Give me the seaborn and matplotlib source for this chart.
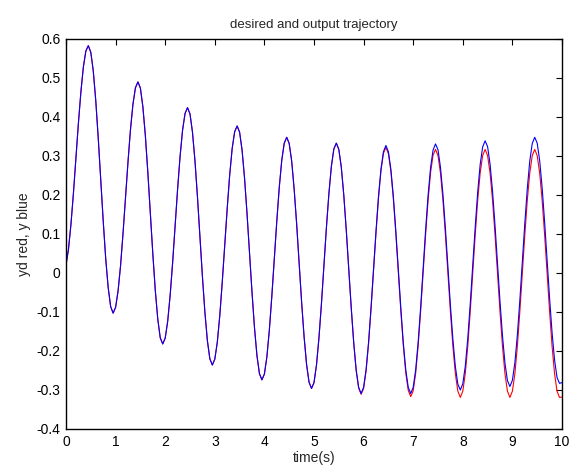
import numpy as np
import pandas as pd
import matplotlib
matplotlib.use("Agg")
import matplotlib.pyplot as plt
import seaborn as sns


# -----------------------------
# 1. Values read off the picture (sampled every 0.05 s)
# -----------------------------
time_s = np.round(np.arange(201) * 0.05, 2)

# shared part of both curves, t = 0.00 .. 5.45
common = [
    0.020, 0.061, 0.125, 0.205, 0.295, 0.384, 0.464, 0.528, 0.569, 0.583,
    0.566, 0.518, 0.442, 0.346, 0.240, 0.134, 0.038, -0.037, -0.086, -0.103,
    -0.088, -0.046, 0.019, 0.102, 0.194, 0.285, 0.368, 0.433, 0.475, 0.490,
    0.474, 0.426, 0.352, 0.258, 0.154, 0.050, -0.044, -0.118, -0.166, -0.182,
    -0.167, -0.124, -0.057, 0.027, 0.121, 0.215, 0.299, 0.366, 0.409, 0.424,
    0.408, 0.361, 0.288, 0.196, 0.094, -0.008, -0.100, -0.173, -0.220, -0.236,
    -0.221, -0.178, -0.110, -0.024, 0.071, 0.165, 0.251, 0.319, 0.362, 0.377,
    0.361, 0.315, 0.243, 0.152, 0.052, -0.049, -0.140, -0.212, -0.258, -0.274,
    -0.259, -0.215, -0.146, -0.059, 0.037, 0.133, 0.220, 0.289, 0.333, 0.348,
    0.332, 0.287, 0.215, 0.126, 0.026, -0.074, -0.163, -0.234, -0.280, -0.296,
    -0.281, -0.236, -0.166, -0.079, 0.019, 0.116, 0.203, 0.273, 0.318, 0.333,
]

# desired trajectory (red), t = 5.50 .. 10.00
yd_tail = [
    0.317, 0.272, 0.200, 0.111, 0.011, -0.089, -0.178, -0.250, -0.295, -0.311,
    -0.296, -0.251, -0.181, -0.092, 0.006, 0.103, 0.192, 0.262, 0.307, 0.322,
    0.306, 0.261, 0.190, 0.101, 0.003, -0.096, -0.185, -0.256, -0.301, -0.317,
    -0.302, -0.257, -0.186, -0.098, 0.000, 0.098, 0.186, 0.257, 0.302, 0.317,
    0.301, 0.256, 0.186, 0.097, -0.001, -0.099, -0.188, -0.258, -0.303, -0.319,
    -0.303, -0.258, -0.188, -0.099, -0.001, 0.097, 0.186, 0.256, 0.301, 0.317,
    0.301, 0.256, 0.186, 0.097, -0.001, -0.099, -0.188, -0.258, -0.303, -0.319,
    -0.303, -0.258, -0.188, -0.099, -0.001, 0.097, 0.186, 0.256, 0.301, 0.317,
    0.301, 0.256, 0.186, 0.097, -0.001, -0.099, -0.188, -0.258, -0.303, -0.319,
    -0.318,
]

# output trajectory (blue), t = 5.50 .. 10.00
y_tail = [
    0.317, 0.272, 0.201, 0.111, 0.012, -0.087, -0.177, -0.248, -0.293, -0.309,
    -0.293, -0.248, -0.178, -0.089, 0.009, 0.107, 0.196, 0.266, 0.311, 0.327,
    0.311, 0.266, 0.196, 0.107, 0.009, -0.089, -0.178, -0.248, -0.293, -0.309,
    -0.293, -0.248, -0.177, -0.088, 0.011, 0.110, 0.199, 0.270, 0.315, 0.331,
    0.316, 0.271, 0.201, 0.113, 0.016, -0.082, -0.170, -0.240, -0.285, -0.300,
    -0.284, -0.239, -0.168, -0.079, 0.020, 0.118, 0.207, 0.278, 0.323, 0.339,
    0.324, 0.279, 0.209, 0.121, 0.024, -0.073, -0.161, -0.231, -0.276, -0.291,
    -0.275, -0.230, -0.159, -0.070, 0.029, 0.127, 0.216, 0.287, 0.332, 0.348,
    0.333, 0.288, 0.218, 0.130, 0.033, -0.065, -0.153, -0.223, -0.268, -0.283,
    -0.281,
]

yd = common + yd_tail
y = common + y_tail

x_ticks = list(range(0, 11))
y_ticks = [-0.4, -0.3, -0.2, -0.1, 0, 0.1, 0.2, 0.3, 0.4, 0.5, 0.6]
y_tick_labels = ["-0.4", "-0.3", "-0.2", "-0.1", "0", "0.1", "0.2", "0.3", "0.4", "0.5", "0.6"]

df = pd.DataFrame({"time": time_s, "yd": yd, "y": y})


# -----------------------------
# 2. Plot
# -----------------------------
sns.set_style("white")
plt.rcParams["font.family"] = ["Liberation Sans", "DejaVu Sans"]

fig = plt.figure(figsize=(5.74, 4.66), dpi=100)
ax = fig.add_axes([66 / 574, 1 - 429 / 466, 496 / 574, 390 / 466])

sns.lineplot(data=df, x="time", y="yd", color="#ff0000", linewidth=0.8, ax=ax)
sns.lineplot(data=df, x="time", y="y", color="#0000ff", linewidth=0.8, ax=ax)

ax.set_xlim(0, 10)
ax.set_ylim(-0.4, 0.6)
ax.set_xticks(x_ticks)
ax.set_xticklabels([str(v) for v in x_ticks])
ax.set_yticks(y_ticks)
ax.set_yticklabels(y_tick_labels)

ax.tick_params(direction="in", length=4, width=0.8, labelsize=10,
               top=True, right=True, colors="black", pad=4)
for side in ax.spines.values():
    side.set_visible(True)
    side.set_color("black")
    side.set_linewidth(1.0)

ax.set_title("desired and output trajectory", fontsize=9.5, pad=8)
ax.set_xlabel("time(s)", fontsize=10, labelpad=2)
ax.set_ylabel("yd red, y blue", fontsize=10, labelpad=4)

fig.savefig("out.png", dpi=100, facecolor="white")
